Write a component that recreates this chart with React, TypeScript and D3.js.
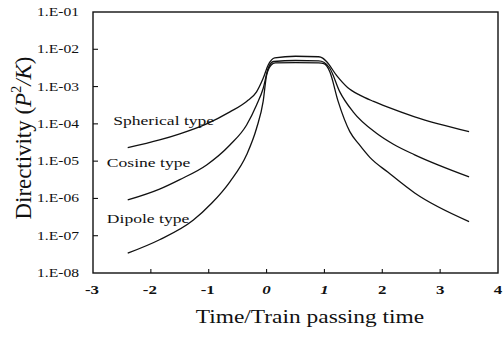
import React, { useRef, useEffect } from 'react';
import * as d3 from 'd3';

const W = 503;
const H = 345;

// (time / train passing time, directivity)
const sphericalT = [-2.4, -1.85, -1.5, -1.036, -0.634, -0.345, -0.173, -0.059, 0.028, 0.14, 0.5, 0.9, 0.97, 1.036, 1.209, 1.4, 1.611, 1.85, 2.073, 2.56, 3.5];
const sphericalV = [2.3e-5, 3.7e-5, 5.4e-5, 1.0e-4, 2.1e-4, 4.0e-4, 7.2e-4, 1.66e-3, 3.8e-3, 5.9e-3, 6.5e-3, 6.3e-3, 5.8e-3, 4.7e-3, 2.0e-3, 9.5e-4, 5.9e-4, 4.0e-4, 2.9e-4, 1.55e-4, 6.2e-5];

const cosineT = [-2.4, -1.85, -1.5, -1.036, -0.634, -0.345, -0.173, -0.059, 0.028, 0.12, 0.5, 0.9, 0.99, 1.093, 1.266, 1.496, 1.9, 2.2, 2.56, 3.5];
const cosineV = [9.1e-7, 1.78e-6, 3.2e-6, 7.9e-6, 2.7e-5, 9.3e-5, 3.2e-4, 8.9e-4, 3.1e-3, 4.7e-3, 5.0e-3, 4.9e-3, 4.5e-3, 3.1e-3, 7.2e-4, 2.1e-4, 5.6e-5, 2.8e-5, 1.48e-5, 3.8e-6];

const dipoleT = [-2.4, -1.85, -1.27, -0.95, -0.634, -0.345, -0.173, -0.059, 0.0, 0.08, 0.15, 0.5, 0.9, 0.99, 1.093, 1.237, 1.439, 1.6, 1.785, 2.1, 2.56, 3.5];
const dipoleV = [3.4e-8, 7.8e-8, 2.6e-7, 7.4e-7, 2.8e-6, 1.48e-5, 7.6e-5, 4.0e-4, 2.0e-3, 3.8e-3, 4.3e-3, 4.4e-3, 4.3e-3, 4.1e-3, 2.5e-3, 4.0e-4, 6.2e-5, 2.8e-5, 1.26e-5, 5.0e-6, 1.4e-6, 2.4e-7];

const xTicks = [-3, -2, -1, 0, 1, 2, 3, 4];
const yTicks = [1e-1, 1e-2, 1e-3, 1e-4, 1e-5, 1e-6, 1e-7, 1e-8];
const yTickLabels = ['1.E-01', '1.E-02', '1.E-03', '1.E-04', '1.E-05', '1.E-06', '1.E-07', '1.E-08'];

const labelNames = ['Spherical type', 'Cosine type', 'Dipole type'];
const labelT = [-2.65, -2.76, -2.76];
const labelV = [9.3e-5, 6.9e-6, 2.2e-7];

const App: React.FC = () => {
  const svgRef = useRef<SVGSVGElement>(null);

  useEffect(() => {
    if (!svgRef.current) return;
    const svg = d3.select(svgRef.current);
    svg.selectAll('*').remove();

    const margin = { top: 12, right: 5, bottom: 72, left: 93 };
    const x = d3.scaleLinear().domain([-3, 4]).range([margin.left, W - margin.right]);
    const y = d3.scaleLog().domain([1e-8, 1e-1]).range([H - margin.bottom, margin.top]);

    const font = 'Liberation Serif, Times New Roman, serif';
    const ink = '#111';
    const stretch = 1.3; // the scanned figure is wider than it is tall

    const widen = function (this: SVGTextElement) {
      this.setAttribute('textLength', String(this.getComputedTextLength() * stretch));
      this.setAttribute('lengthAdjust', 'spacingAndGlyphs');
    };

    // frame
    svg.append('rect')
      .attr('x', x(-3)).attr('y', y(1e-1))
      .attr('width', x(4) - x(-3)).attr('height', y(1e-8) - y(1e-1))
      .attr('fill', 'none').attr('stroke', ink).attr('stroke-width', 1.4);

    // inward ticks
    svg.append('g').selectAll('line').data(yTicks.slice(1, -1)).enter().append('line')
      .attr('x1', x(-3)).attr('x2', x(-3) + 5)
      .attr('y1', d => y(d)).attr('y2', d => y(d))
      .attr('stroke', ink).attr('stroke-width', 1.1);
    svg.append('g').selectAll('line').data(xTicks.slice(1, -1)).enter().append('line')
      .attr('x1', d => x(d)).attr('x2', d => x(d))
      .attr('y1', y(1e-8)).attr('y2', y(1e-8) - 4)
      .attr('stroke', ink).attr('stroke-width', 1.1);

    // tick labels
    svg.append('g').selectAll('text').data(yTicks).enter().append('text')
      .attr('x', 79).attr('y', d => y(d) + 4)
      .attr('text-anchor', 'end')
      .attr('font-family', font).attr('font-size', 12).attr('fill', ink)
      .text((_, i) => yTickLabels[i])
      .each(widen);
    svg.append('g').selectAll('text').data(xTicks).enter().append('text')
      .attr('x', d => x(d) + (d < 0 ? -1 : 0)).attr('y', 294)
      .attr('text-anchor', 'middle')
      .attr('font-family', font).attr('font-size', 13).attr('font-weight', 700)
      .attr('font-style', d => (d === 0 || d === 1 ? 'italic' : 'normal'))
      .attr('fill', ink)
      .text(d => String(d))
      .each(widen);

    // axis titles
    svg.append('text')
      .attr('x', 310).attr('y', 323)
      .attr('text-anchor', 'middle')
      .attr('font-family', font).attr('font-size', 18).attr('fill', ink)
      .text('Time/Train passing time')
      .each(widen);

    const yl = svg.append('text')
      .attr('transform', `translate(31,138) scale(1.2,1) rotate(-90)`)
      .attr('text-anchor', 'middle')
      .attr('font-family', font).attr('font-size', 19).attr('fill', ink)
      .attr('textLength', 163).attr('lengthAdjust', 'spacingAndGlyphs');
    yl.append('tspan').text('Directivity  (');
    yl.append('tspan').attr('font-style', 'italic').text('P');
    yl.append('tspan').attr('font-size', 12).attr('dy', -8).text('2');
    yl.append('tspan').attr('font-style', 'italic').attr('dy', 8).text('/K');
    yl.append('tspan').text(')');

    // curves
    const line = d3.line<[number, number]>()
      .x(d => x(d[0])).y(d => y(d[1]))
      .curve(d3.curveMonotoneX);
    const series: [number[], number[]][] = [
      [sphericalT, sphericalV],
      [cosineT, cosineV],
      [dipoleT, dipoleV],
    ];
    series.forEach(([ts, vs]) => {
      svg.append('path')
        .datum(ts.map((t, i) => [t, vs[i]] as [number, number]))
        .attr('d', line)
        .attr('fill', 'none').attr('stroke', ink).attr('stroke-width', 1.3)
        .attr('stroke-linejoin', 'round');
    });

    // in-plot labels
    svg.append('g').selectAll('text').data(labelNames).enter().append('text')
      .attr('x', (_, i) => x(labelT[i])).attr('y', (_, i) => y(labelV[i]))
      .attr('font-family', font).attr('font-size', 13.5).attr('fill', ink)
      .text(d => d)
      .each(widen);
  }, []);

  return <svg ref={svgRef} width={W} height={H} style={{ position: 'absolute', left: 0, top: 0, background: '#fff' }} />;
};

export default App;
